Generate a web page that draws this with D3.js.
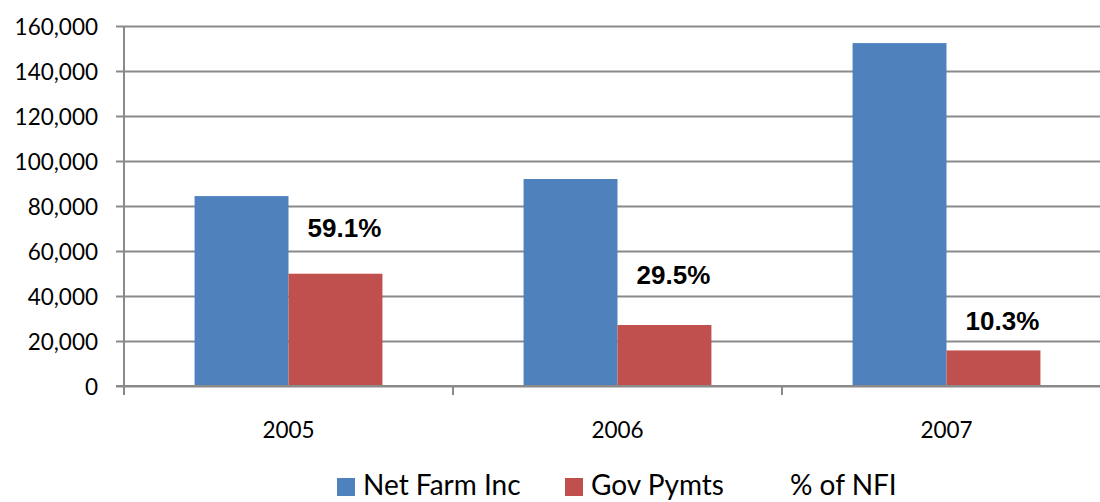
<!DOCTYPE html>
<html><head><meta charset="utf-8">
<script src="https://cdn.jsdelivr.net/npm/d3@7"></script>
<style>body{margin:0;background:#fff}svg{display:block}</style>
</head><body>
<svg id="c" width="1100" height="502"></svg>
<script>
const categories = ["2005", "2006", "2007"];
const netFarmInc = [84400, 92000, 152400];
const govPymts = [49900, 27100, 15800];
const pctOfNFI = ["59.1%", "29.5%", "10.3%"];
const yTicks = [0, 20000, 40000, 60000, 80000, 100000, 120000, 140000, 160000];
const seriesNames = ["Net Farm Inc", "Gov Pymts", "% of NFI"];
const colors = ["#4f81bd", "#c0504d"];
const labelLift = [46, 50, 30];

(function () {
const svg = d3.select("#c");
const pLeft = 124, pRight = 1111, pTop = 26, pBottom = 386;
const y = d3.scaleLinear().domain([0, 160000]).range([pBottom, pTop]);
const x = d3.scaleBand().domain(categories).range([pLeft, pRight]).padding(0);
const bw = x.bandwidth();
const x1 = d3.scaleBand().domain([0, 1]).range([bw * 0.2145, bw * 0.7855]).padding(0);
const grid = "#8a8a8a";
const fontReg = "Lato, 'Open Sans', sans-serif";

// gridlines + y axis
const yAxis = d3.axisLeft(y).tickValues(yTicks).tickSize(-(pRight - pLeft)).tickPadding(0)
  .tickFormat(d3.format(","));
const gy = svg.append("g").attr("transform", `translate(${pLeft},0)`).call(yAxis);
gy.select(".domain").remove();
gy.selectAll(".tick line").attr("stroke", grid).attr("stroke-width", 2).attr("x1", -8);
gy.selectAll(".tick text").attr("x", -26).attr("dy", "0.36em")
  .attr("font-family", fontReg).attr("font-size", 22.5).attr("fill", "#000");

// bars
const data = categories.map((c, i) => ({c, v: [netFarmInc[i], govPymts[i]]}));
const groups = svg.append("g").selectAll("g").data(data).join("g")
  .attr("transform", d => `translate(${x(d.c)},0)`);
groups.selectAll("rect").data(d => d.v.map((v, k) => ({v, k}))).join("rect")
  .attr("x", d => x1(d.k)).attr("width", x1.bandwidth())
  .attr("y", d => y(d.v)).attr("height", d => y(0) - y(d.v))
  .attr("fill", d => colors[d.k]);

// percent labels
svg.append("g").selectAll("text").data(data).join("text")
  .attr("x", (d, i) => x(d.c) + x1(1) + x1.bandwidth() / 2 + 9)
  .attr("y", (d, i) => y(d.v[1]) - labelLift[i])
  .attr("dy", "0.36em").attr("text-anchor", "middle")
  .attr("font-family", "'Liberation Sans', Arial, sans-serif").attr("font-weight", "bold")
  .attr("font-size", 26).text((d, i) => pctOfNFI[i]);

// x axis
const xAxis = d3.axisBottom(x).tickSize(0).tickPadding(0);
const gx = svg.append("g").attr("transform", `translate(0,${pBottom})`).call(xAxis);
gx.select(".domain").remove();
gx.selectAll(".tick text").attr("y", 44).attr("dy", "0.36em")
  .attr("font-family", fontReg).attr("font-size", 22.5).attr("fill", "#000");
// category boundary ticks
svg.append("g").selectAll("line").data(categories.map(c => x(c)).concat([pRight])).join("line")
  .attr("x1", d => d).attr("x2", d => d).attr("y1", pBottom).attr("y2", pBottom + 9)
  .attr("stroke", grid).attr("stroke-width", 2);
// vertical axis line
svg.append("line").attr("x1", pLeft).attr("x2", pLeft).attr("y1", pTop).attr("y2", pBottom)
  .attr("stroke", grid).attr("stroke-width", 2);
svg.append("line").attr("x1", pLeft - 8).attr("x2", pRight).attr("y1", pBottom).attr("y2", pBottom)
  .attr("stroke", grid).attr("stroke-width", 2);

// legend
const legend = svg.append("g");
const legItems = [
  {name: seriesNames[0], color: colors[0], x: 337},
  {name: seriesNames[1], color: colors[1], x: 565},
  {name: seriesNames[2], color: null, x: 790}
];
legItems.forEach(it => {
  if (it.color) {
    legend.append("rect").attr("x", it.x).attr("y", 478).attr("width", 18).attr("height", 18).attr("fill", it.color);
  }
  legend.append("text").attr("x", it.color ? it.x + 26 : it.x).attr("y", 485).attr("dy", "0.35em")
    .attr("font-family", fontReg).attr("font-size", 28).attr("fill", "#000").text(it.name);
});
})();
</script>
</body></html>
